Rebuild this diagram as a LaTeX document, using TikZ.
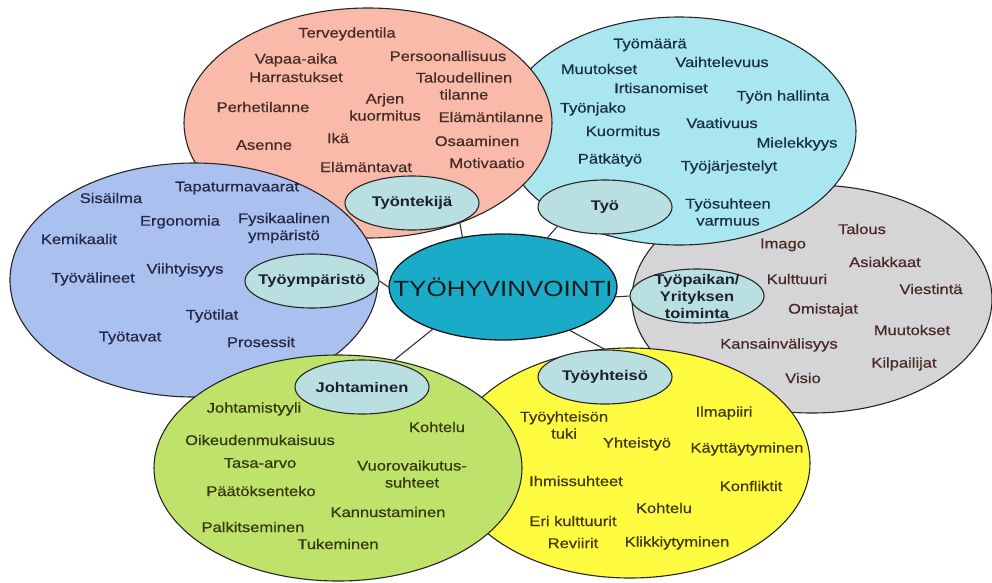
\documentclass[tikz,border=0pt]{standalone}
\usepackage{fontspec}
\setmainfont[FakeStretch=1.18]{Liberation Sans}
\newfontfamily\wordfont[FakeStretch=1.18,FakeBold=0.6]{Liberation Sans}
\usepackage{xcolor}
\usepackage{tikz}
\usetikzlibrary{shapes.geometric}

\definecolor{pinkfill}{RGB}{249,186,170}
\definecolor{cyanfill}{RGB}{170,230,240}
\definecolor{bluefill}{RGB}{170,192,238}
\definecolor{grayfill}{RGB}{213,213,215}
\definecolor{greenfill}{RGB}{191,226,106}
\definecolor{yellowfill}{RGB}{255,251,64}
\definecolor{topicfill}{RGB}{186,223,225}
\definecolor{hubfill}{RGB}{26,171,201}
\definecolor{pinktext}{RGB}{70,44,38}
\definecolor{cyantext}{RGB}{26,48,64}
\definecolor{bluetext}{RGB}{36,40,70}
\definecolor{graytext}{RGB}{72,42,36}
\definecolor{greentext}{RGB}{52,56,12}
\definecolor{yellowtext}{RGB}{66,56,12}
\definecolor{topictext}{RGB}{26,34,46}

\pgfdeclarelayer{links}
\pgfdeclarelayer{areas}
\pgfsetlayers{links,areas,main}

\tikzset{
  area/.style={draw=black!85, line width=1.1pt},
  link/.style={draw=black!80, line width=1.1pt},
  topic/.style={ellipse, draw=black!85, line width=1.1pt, fill=topicfill,
    minimum width=134pt, minimum height=54pt, inner sep=0pt,
    label={[font=\bfseries\fontsize{14}{17}\selectfont, align=center, text=topictext]center:#1}},
  hub/.style={ellipse, draw=black!90, line width=1.3pt, fill=hubfill,
    minimum width=228pt, minimum height=106pt, inner sep=0pt,
    label={[font=\fontsize{22}{26}\selectfont, text=black!90]center:#1}},
  word/.style={font=\wordfont\fontsize{14}{17}\selectfont, align=center, inner sep=1pt, text=#1}
}

\begin{document}
\begin{tikzpicture}[x=1pt, y=-1pt]
\useasboundingbox (0,0) rectangle (992,582);

\begin{pgfonlayer}{areas}
  \draw[area, fill=grayfill] (812,299) ellipse [x radius=180pt, y radius=114pt];
  \draw[area, fill=cyanfill] (679,131) ellipse [x radius=177pt, y radius=114pt];
  \draw[area, fill=pinkfill] (368,123) ellipse [x radius=184pt, y radius=115pt];
  \draw[area, fill=bluefill] (194,280) ellipse [x radius=184pt, y radius=117pt];
  \draw[area, fill=yellowfill] (630,463) ellipse [x radius=180pt, y radius=115pt];
  \draw[area, fill=greenfill] (338,468) ellipse [x radius=184pt, y radius=113pt];
\end{pgfonlayer}

\node[hub=TYÖHYVINVOINTI] (mid) at (503,287) {};
\node[topic=Työntekijä] (tek) at (412,203) {};
\node[topic=Työ] (tyo) at (605,207) {};
\node[topic=Työympäristö] (ymp) at (312,281) {};
\node[topic={Työpaikan/\\Yrityksen\\toiminta}] (yri) at (697,296) {};
\node[topic=Johtaminen] (joh) at (362,387) {};
\node[topic=Työyhteisö] (yht) at (605,377) {};

\begin{pgfonlayer}{links}
  \draw[link] (mid.129) -- (tek.south east);
  \draw[link] (mid.48) -- (tyo.south west);
  \draw[link] (mid.west) -- (ymp.east);
  \draw[link] (mid.-5) -- (yri.west);
  \draw[link] (mid.211) -- (joh.40);
  \draw[link] (mid.-33) -- (yht.north);
\end{pgfonlayer}

% Tyontekija
\foreach \t/\x/\y [count=\i] in {Terveydentila/347/34, Vapaa-aika/296/60,
    Harrastukset/296/77, Persoonallisuus/448/56, {Taloudellinen\\tilanne}/464/86,
    Perhetilanne/263/107, {Arjen\\kuormitus}/385/107, Elämäntilanne/491/117,
    Asenne/264/145, Ikä/338/138, Osaaminen/477/141, Elämäntavat/366/167,
    Motivaatio/487/163}
  \node[word=pinktext] (tek\i) at (\x,\y) {\t};

% Tyo
\foreach \t/\x/\y [count=\i] in {Työmäärä/650/45, Vaihtelevuus/722/62,
    Muutokset/599/69, Irtisanomiset/661/88, Työn hallinta/783/97,
    Työnjako/593/109, Kuormitus/623/131, Vaativuus/722/123, Mielekkyys/797/144,
    Pätkätyö/610/160, Työjärjestelyt/729/167, {Työsuhteen\\varmuus}/728/212}
  \node[word=cyantext] (tyo\i) at (\x,\y) {\t};

% Tyoymparisto
\foreach \t/\x/\y [count=\i] in {Sisäilma/111/198, Tapaturmavaarat/237/188,
    Ergonomia/180/222, {Fysikaalinen\\ympäristö}/284/228, Kemikaalit/79/239,
    Viihtyisyys/185/270, Työvälineet/93/279, Työtilat/212/316,
    Työtavat/130/338, Prosessit/261/342}
  \node[word=bluetext] (ymp\i) at (\x,\y) {\t};

% Tyopaikan toiminta
\foreach \t/\x/\y [count=\i] in {Talous/862/229, Imago/783/245,
    Asiakkaat/885/262, Kulttuuri/797/279, Viestintä/931/289, Omistajat/823/310,
    Muutokset/912/330, Kansainvälisyys/779/345, Kilpailijat/904/364,
    Visio/803/378}
  \node[word=graytext] (yri\i) at (\x,\y) {\t};

% Johtaminen
\foreach \t/\x/\y [count=\i] in {Johtamistyyli/254/409, Kohtelu/437/427,
    Oikeudenmukaisuus/260/440, Tasa-arvo/260/463,
    {Vuorovaikutus-\\suhteet}/412/474, Päätöksenteko/261/491,
    Kannustaminen/388/512, Palkitseminen/253/527, Tukeminen/338/544}
  \node[word=greentext] (joh\i) at (\x,\y) {\t};

% Tyoyhteiso
\foreach \t/\x/\y [count=\i] in {{Työyhteisön\\tuki}/564/425, Ilmapiiri/724/413,
    Yhteistyö/637/444, Käyttäytyminen/747/449, Ihmissuhteet/576/481,
    Konfliktit/751/486, Kohtelu/664/508, Eri kulttuurit/573/521,
    Reviirit/573/543, Klikkiytyminen/677/543}
  \node[word=yellowtext] (yht\i) at (\x,\y) {\t};

\end{tikzpicture}
\end{document}
